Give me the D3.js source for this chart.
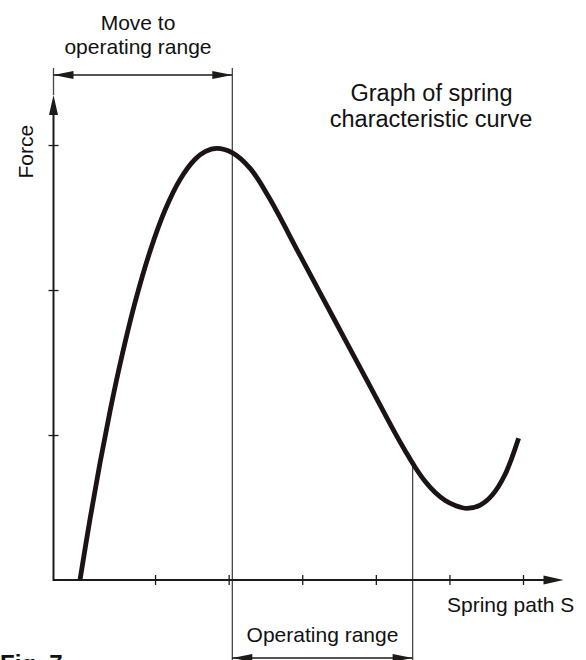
<!DOCTYPE html>
<html>
<head>
<meta charset="utf-8">
<script src="https://cdn.jsdelivr.net/npm/d3@7"></script>
<style>
  html, body { margin: 0; padding: 0; background: #fff; }
  svg { display: block; }
  text { font-family: "Liberation Sans", Arial, Helvetica, sans-serif; fill: #111; }
</style>
</head>
<body>
<svg id="chart" width="586" height="660"></svg>
<script>
// ---- data ----
const springPath = [-0.020, 0.116, 0.252, 0.388, 0.524, 0.728, 0.932, 1.136, 1.340, 1.544, 1.680, 1.839, 2.047, 2.292, 2.545, 2.972, 3.425, 3.879, 4.264, 4.400, 4.536, 4.671, 4.807, 4.943, 5.079, 5.239, 5.419, 5.582, 5.759, 5.940];
const force      = [0.000, 0.420, 0.808, 1.164, 1.488, 1.914, 2.268, 2.552, 2.763, 2.902, 2.955, 2.977, 2.948, 2.839, 2.641, 2.237, 1.807, 1.377, 1.011, 0.890, 0.776, 0.679, 0.603, 0.548, 0.514, 0.494, 0.517, 0.586, 0.731, 0.977];
const xTicks = [1, 2, 3, 4, 5, 6];
const yTicks = [1, 2, 3];
const xDomain = [-0.38, 6.55];
const yDomain = [0, 3.345];
const moveRange = [-0.38, 2.05];
const operatingRange = [2.05, 4.50];
const operatingForce = 0.80;
const labels = {
  moveTo: ["Move to", "operating range"],
  title: ["Graph of spring", "characteristic curve"],
  yLabel: "Force",
  xLabel: "Spring path S",
  operating: "Operating range",
  fig: "Fig. 7"
};

// ---- drawing ----
const svg = d3.select("#chart");
const x = d3.scaleLinear().domain(xDomain).range([53.5, 563.5]);
const y = d3.scaleLinear().domain(yDomain).range([580, 95]);

const axisColor = "#1e1a1a";
const thinColor = "#4a4646";

// thin dimension / extension lines
svg.append("line")
  .attr("x1", x(moveRange[0])).attr("x2", x(moveRange[0]))
  .attr("y1", 68).attr("y2", y(yDomain[1]))
  .attr("stroke", thinColor).attr("stroke-width", 1.3);
svg.append("line")
  .attr("x1", x(moveRange[1])).attr("x2", x(moveRange[1]))
  .attr("y1", 68).attr("y2", 662)
  .attr("stroke", thinColor).attr("stroke-width", 1.3);
svg.append("line")
  .attr("x1", x(operatingRange[1])).attr("x2", x(operatingRange[1]))
  .attr("y1", y(operatingForce)).attr("y2", 662)
  .attr("stroke", thinColor).attr("stroke-width", 1.3);

// double arrow helper
function dimArrow(xa, xb, yy, len, hw) {
  svg.append("line").attr("x1", xa).attr("x2", xb).attr("y1", yy).attr("y2", yy)
    .attr("stroke", axisColor).attr("stroke-width", 1.4);
  svg.append("path")
    .attr("d", `M${xa},${yy} L${xa + len},${yy - hw} L${xa + len},${yy + hw} Z`)
    .attr("fill", axisColor);
  svg.append("path")
    .attr("d", `M${xb},${yy} L${xb - len},${yy - hw} L${xb - len},${yy + hw} Z`)
    .attr("fill", axisColor);
}
dimArrow(x(moveRange[0]), x(moveRange[1]), 75, 20, 4);
dimArrow(x(operatingRange[0]), x(operatingRange[1]), 658, 20, 4);

// x axis with ticks
const gx = svg.append("g").attr("transform", `translate(0,${y(0)})`)
  .call(d3.axisBottom(x).tickValues(xTicks).tickSize(5).tickFormat(""));
gx.select(".domain").remove();
gx.selectAll(".tick line").attr("y1", -5).attr("y2", 5)
  .attr("stroke", axisColor).attr("stroke-width", 1.3);

const gy = svg.append("g").attr("transform", `translate(${x(xDomain[0])},0)`)
  .call(d3.axisLeft(y).tickValues(yTicks).tickSize(5).tickFormat(""));
gy.select(".domain").remove();
gy.selectAll(".tick line").attr("x1", -5).attr("x2", 5)
  .attr("stroke", axisColor).attr("stroke-width", 1.3);

// axis lines with arrowheads
const ox = x(xDomain[0]), oy = y(0);
svg.append("line").attr("x1", ox).attr("x2", x(xDomain[1]) - 18).attr("y1", oy).attr("y2", oy)
  .attr("stroke", axisColor).attr("stroke-width", 2);
svg.append("path")
  .attr("d", `M${x(xDomain[1])},${oy} L${x(xDomain[1]) - 20},${oy - 4.5} L${x(xDomain[1]) - 20},${oy + 4.5} Z`)
  .attr("fill", axisColor);
svg.append("line").attr("x1", ox).attr("x2", ox).attr("y1", oy + 1).attr("y2", y(yDomain[1]) + 18)
  .attr("stroke", axisColor).attr("stroke-width", 2);
svg.append("path")
  .attr("d", `M${ox},${y(yDomain[1])} L${ox - 4.5},${y(yDomain[1]) + 20} L${ox + 4.5},${y(yDomain[1]) + 20} Z`)
  .attr("fill", axisColor);

// spring characteristic curve
const pts = springPath.map((s, i) => [s, force[i]]);
const line = d3.line().x(d => x(d[0])).y(d => y(d[1])).curve(d3.curveCatmullRom.alpha(0.5));
svg.append("path").datum(pts)
  .attr("d", line)
  .attr("fill", "none")
  .attr("stroke", "#1c1414")
  .attr("stroke-width", 4.8)
  .attr("stroke-linecap", "butt")
  .attr("stroke-linejoin", "round");

// texts
svg.append("text").attr("x", 138).attr("y", 29.5).attr("text-anchor", "middle")
  .attr("font-size", 21).text(labels.moveTo[0]);
svg.append("text").attr("x", 138).attr("y", 54).attr("text-anchor", "middle")
  .attr("font-size", 21).text(labels.moveTo[1]);
svg.append("text").attr("x", 431.5).attr("y", 100.5).attr("text-anchor", "middle")
  .attr("font-size", 23.5).text(labels.title[0]);
svg.append("text").attr("x", 431).attr("y", 126.5).attr("text-anchor", "middle")
  .attr("font-size", 23.5).text(labels.title[1]);
svg.append("text").attr("transform", "translate(33,151.7) rotate(-90)")
  .attr("text-anchor", "middle").attr("font-size", 21).text(labels.yLabel);
svg.append("text").attr("x", 447).attr("y", 612)
  .attr("font-size", 21).text(labels.xLabel);
svg.append("text").attr("x", 322.5).attr("y", 641.7).attr("text-anchor", "middle")
  .attr("font-size", 21).text(labels.operating);
svg.append("text").attr("x", 0).attr("y", 672)
  .attr("font-size", 24).attr("font-weight", "bold").text(labels.fig);
</script>
</body>
</html>
